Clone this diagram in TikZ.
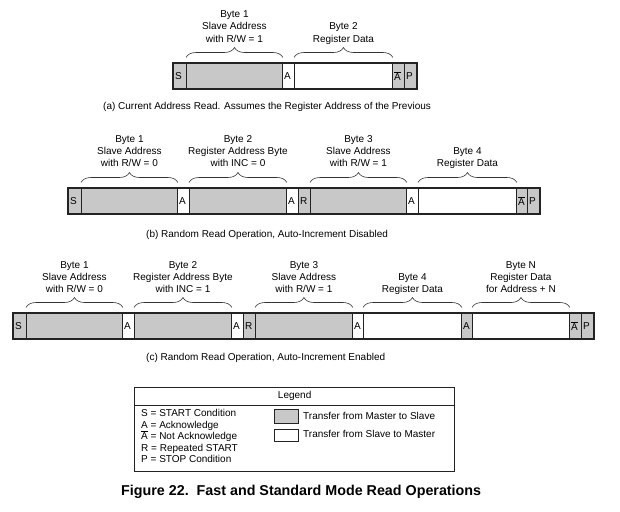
\documentclass[tikz,border=0pt]{standalone}
\usepackage{fontspec}
\setmainfont{Liberation Sans}
\usetikzlibrary{decorations.pathreplacing,calc}
\definecolor{mgray}{RGB}{200,200,200}
\definecolor{edge}{RGB}{35,35,35}
\newcommand{\nack}{\leavevmode\hbox{\vbox{\hrule height 0.55pt\kern 0.9pt\hbox{A}}}}
% cell with letter: name, x1, x2, top, fill, letter
\newcommand{\cel}[6]{%
  \node[cellbox, fill=#5, minimum width={#3-#2}] (#1) at (#2,#4) {};
  \node[lettr] (#1t) at ([xshift=2pt]#1.west) {#6};}
% plain cell: name, x1, x2, top, fill
\newcommand{\blk}[5]{%
  \node[cellbox, fill=#5, minimum width={#3-#2}] (#1) at (#2,#4) {};}
% three header lines over cell: cell, first baseline, l1, l2, l3
\newcommand{\hdrthree}[5]{%
  \node[txt] (#1h1) at (#1.north |- 0,#2) {#3};
  \node[txt] (#1h2) at (#1.north |- 0,#2+12) {#4};
  \node[txt] (#1h3) at (#1.north |- 0,#2+24) {#5};
  \draw[brc] ([yshift=5.5pt]#1.north west) -- ([yshift=5.5pt]#1.north east);}
\newcommand{\hdrtwo}[4]{%
  \node[txt] (#1h1) at (#1.north |- 0,#2) {#3};
  \node[txt] (#1h2) at (#1.north |- 0,#2+12) {#4};
  \draw[brc] ([yshift=5.5pt]#1.north west) -- ([yshift=5.5pt]#1.north east);}
\begin{document}
\begin{tikzpicture}[x=1pt,y=-1pt,
  cellbox/.style={draw=edge, line width=0.9pt, anchor=north west, minimum height=25pt, inner sep=0pt, rectangle},
  lettr/.style={anchor=west, inner sep=0pt, font=\fontsize{10}{12}\selectfont},
  txt/.style={anchor=base, inner sep=0pt, font=\fontsize{10}{12}\selectfont},
  bar/.style={draw=edge, line width=1.8pt},
  brc/.style={decorate, decoration={brace, amplitude=10pt}, line width=0.6pt, draw=black!80},
]
\useasboundingbox (0,0) rectangle (620,511);

% ---------- row (a)
\cel{aS}{173}{186}{63}{mgray}{S}
\blk{aBa}{186}{282}{63}{mgray}
\cel{aAa}{282}{294}{63}{white}{A}
\blk{aBb}{294}{392}{63}{white}
\cel{aN}{392}{404}{63}{mgray}{\nack}
\cel{aP}{404}{416}{63}{mgray}{P}
\draw[bar] (aS.north west) rectangle (aP.south east);
\hdrthree{aBa}{18}{Byte 1}{Slave Address}{with R/W = 1}
\hdrtwo{aBb}{30}{Byte 2}{Register Data}
\node[txt, anchor=base west] (capa) at (103,109) {(a) Current Address Read. Assumes the Register Address of the Previous};

% ---------- row (b)
\cel{bS}{68}{81}{188}{mgray}{S}
\blk{bBa}{81}{177}{188}{mgray}
\cel{bAa}{177}{189}{188}{white}{A}
\blk{bBb}{189}{286}{188}{mgray}
\cel{bAb}{286}{298}{188}{white}{A}
\cel{bR}{298}{310}{188}{mgray}{R}
\blk{bBc}{310}{406}{188}{mgray}
\cel{bAc}{406}{418}{188}{white}{A}
\blk{bBd}{418}{516}{188}{white}
\cel{bN}{516}{527}{188}{mgray}{\nack}
\cel{bP}{527}{539}{188}{mgray}{P}
\draw[bar] (bS.north west) rectangle (bP.south east);
\hdrthree{bBa}{142}{Byte 1}{Slave Address}{with R/W = 0}
\hdrthree{bBb}{142}{Byte 2}{Register Address Byte}{with INC = 0}
\hdrthree{bBc}{142}{Byte 3}{Slave Address}{with R/W = 1}
\hdrtwo{bBd}{154}{Byte 4}{Register Data}
\node[txt, anchor=base west] (capb) at (146,237.5) {(b) Random Read Operation, Auto-Increment Disabled};

% ---------- row (c)
\cel{cS}{13}{26}{313}{mgray}{S}
\blk{cBa}{26}{122}{313}{mgray}
\cel{cAa}{122}{134}{313}{white}{A}
\blk{cBb}{134}{231}{313}{mgray}
\cel{cAb}{231}{243}{313}{white}{A}
\cel{cR}{243}{255}{313}{mgray}{R}
\blk{cBc}{255}{352}{313}{mgray}
\cel{cAc}{352}{363}{313}{white}{A}
\blk{cBd}{363}{461}{313}{white}
\cel{cAd}{461}{472}{313}{mgray}{A}
\blk{cBe}{472}{569}{313}{white}
\cel{cN}{569}{581}{313}{mgray}{\nack}
\cel{cP}{581}{593}{313}{mgray}{P}
\draw[bar] (cS.north west) rectangle (cP.south east);
\hdrthree{cBa}{268}{Byte 1}{Slave Address}{with R/W = 0}
\hdrthree{cBb}{268}{Byte 2}{Register Address Byte}{with INC = 1}
\hdrthree{cBc}{268}{Byte 3}{Slave Address}{with R/W = 1}
\hdrtwo{cBd}{280}{Byte 4}{Register Data}
\hdrthree{cBe}{268}{Byte N}{Register Data}{for Address + N}
\node[txt, anchor=base west] (capc) at (146,360.5) {(c) Random Read Operation, Auto-Increment Enabled};

% ---------- legend
\node[draw=edge, line width=1.3pt, anchor=north west, minimum width=320pt, minimum height=84pt, inner sep=0pt] (leg) at (134,387) {};
\draw[draw=edge, line width=0.9pt] (leg.west |- 0,405) -- (leg.east |- 0,405);
\node[txt] (legt) at (leg.north |- 0,398.5) {Legend};
\node[txt, anchor=base west] (ls) at (141,416.5) {S = START Condition};
\node[txt, anchor=base west] (la) at (141,428) {A = Acknowledge};
\node[txt, anchor=base west] (ln) at (141,439.5) {\nack{} = Not Acknowledge};
\node[txt, anchor=base west] (lr) at (141,451) {R = Repeated START};
\node[txt, anchor=base west] (lp) at (141,462.5) {P = STOP Condition};
\node[draw=edge, line width=1.3pt, fill=mgray, anchor=north west, minimum width=24pt, minimum height=14pt, inner sep=0pt] (swg) at (274,409) {};
\node[draw=edge, line width=1.3pt, fill=white, anchor=north west, minimum width=24pt, minimum height=12pt, inner sep=0pt] (sww) at (274,429) {};
\node[txt, anchor=base west] (tg) at (303,419) {Transfer from Master to Slave};
\node[txt, anchor=base west] (tw) at (303,437) {Transfer from Slave to Master};

% ---------- title
\node[anchor=base west, inner sep=0pt, font=\bfseries\fontsize{14.3}{16}\selectfont] (title) at (121,495.5) {Figure 22.\ \ Fast and Standard Mode Read Operations};
\end{tikzpicture}
\end{document}
